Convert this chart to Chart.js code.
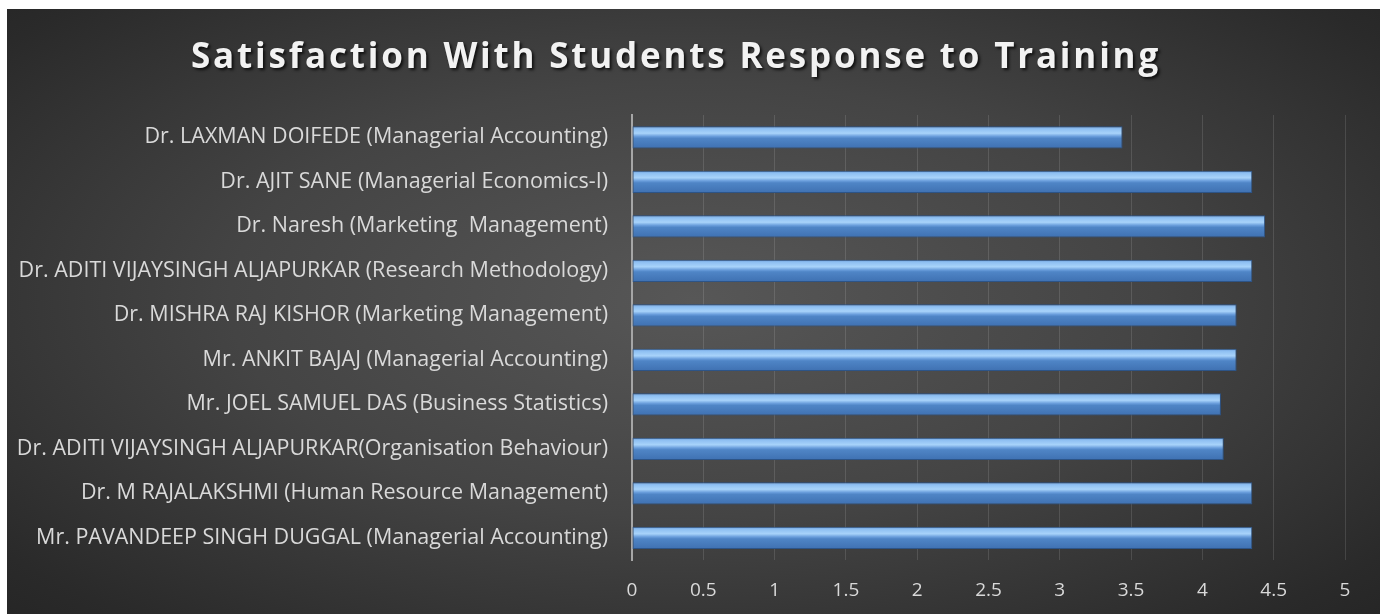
<!DOCTYPE html>
<html>
<head>
<meta charset="utf-8">
<script src="https://cdn.jsdelivr.net/npm/chart.js@4"></script>
<style>
    html, body { margin: 0; padding: 0; background: #ffffff; }
    #wrap {
        position: absolute;
        left: 7px; top: 9px;
        width: 1373px; height: 605px;
        background: radial-gradient(ellipse 75% 80% at 50% 48%, #575757 0%, #444444 45%, #2a2a2a 85%, #232323 100%);
    }
</style>
</head>
<body>
<div id="wrap"><canvas id="satisfacaoChart"></canvas></div>
<script>
// Dados do gráfico
const professores = [
    'Dr. LAXMAN DOIFEDE (Managerial Accounting)',
    'Dr. AJIT SANE (Managerial Economics-I)',
    'Dr. Naresh (Marketing  Management)',
    'Dr. ADITI VIJAYSINGH ALJAPURKAR (Research Methodology)',
    'Dr. MISHRA RAJ KISHOR (Marketing Management)',
    'Mr. ANKIT BAJAJ (Managerial Accounting)',
    'Mr. JOEL SAMUEL DAS (Business Statistics)',
    'Dr. ADITI VIJAYSINGH ALJAPURKAR(Organisation Behaviour)',
    'Dr. M RAJALAKSHMI (Human Resource Management)',
    'Mr. PAVANDEEP SINGH DUGGAL (Managerial Accounting)'
];
const notas = [3.44, 4.35, 4.44, 4.35, 4.24, 4.24, 4.13, 4.15, 4.35, 4.35];
const ticksX = [0, 0.5, 1, 1.5, 2, 2.5, 3, 3.5, 4, 4.5, 5];

// Gradiente azul "cilíndrico" para cada barra
function barGradient(context) {
    const chart = context.chart;
    const yScale = chart.scales.y;
    if (!yScale || !chart.chartArea) return '#4f81bd';
    const center = yScale.getPixelForValue(context.dataIndex);
    const half = 11;
    const g = chart.ctx.createLinearGradient(0, center - half, 0, center + half);
    g.addColorStop(0, '#6d9fdc');
    g.addColorStop(0.12, '#8fc0f2');
    g.addColorStop(0.32, '#a8d3fa');
    g.addColorStop(0.46, '#6a9edc');
    g.addColorStop(0.55, '#4f85c6');
    g.addColorStop(1, '#3f71b2');
    return g;
}

// Título com espaçamento entre letras e sombra
const tituloPlugin = {
    id: 'tituloEspacado',
    afterInit(chart) {
        const tb = chart.titleBlock;
        if (!tb) return;
        const orig = tb.draw.bind(tb);
        tb.draw = function () {
            const ctx = chart.ctx;
            ctx.save();
            ctx.letterSpacing = '2.8px';
            ctx.shadowColor = 'rgba(0,0,0,0.75)';
            ctx.shadowOffsetX = 2;
            ctx.shadowOffsetY = 2;
            ctx.shadowBlur = 3;
            orig();
            ctx.restore();
        };
    }
};

const ctx = document.getElementById('satisfacaoChart').getContext('2d');
new Chart(ctx, {
    type: 'bar',
    data: {
        labels: professores,
        datasets: [{
            label: 'Satisfaction',
            data: notas,
            backgroundColor: barGradient,
            borderColor: '#2d5487',
            borderWidth: 1,
            borderSkipped: false,
            barPercentage: 1,
            categoryPercentage: 0.5
        }]
    },
    options: {
        indexAxis: 'y',
        responsive: true,
        maintainAspectRatio: false,
        animation: false,
        layout: { padding: { left: 0, right: 35, top: 0, bottom: 0 } },
        plugins: {
            legend: { display: false },
            tooltip: { enabled: false },
            title: {
                display: true,
                text: 'Satisfaction With Students Response to Training',
                color: '#f2f2f2',
                font: { family: 'Open Sans', size: 35, weight: 'bold' },
                padding: { top: 28, bottom: 36 }
            }
        },
        scales: {
            x: {
                min: 0,
                max: 5,
                afterBuildTicks: (scale) => { scale.ticks = ticksX.map(v => ({ value: v })); },
                afterFit: (scale) => { scale.height = 54; },
                ticks: {
                    color: '#d9d9d9',
                    font: { family: 'Open Sans', size: 19 },
                    padding: 19,
                    callback: (v) => String(v)
                },
                grid: { color: 'rgba(255,255,255,0.12)', lineWidth: 1, drawTicks: false },
                border: { display: false }
            },
            y: {
                afterFit: (scale) => { scale.width = 625; },
                ticks: {
                    color: '#d9d9d9',
                    font: { family: 'Open Sans', size: 21.5 },
                    padding: 24
                },
                grid: { display: false, drawTicks: false },
                border: { display: true, color: '#a6a6a6', width: 2 }
            }
        }
    },
    plugins: [tituloPlugin]
});
</script>
</body>
</html>
